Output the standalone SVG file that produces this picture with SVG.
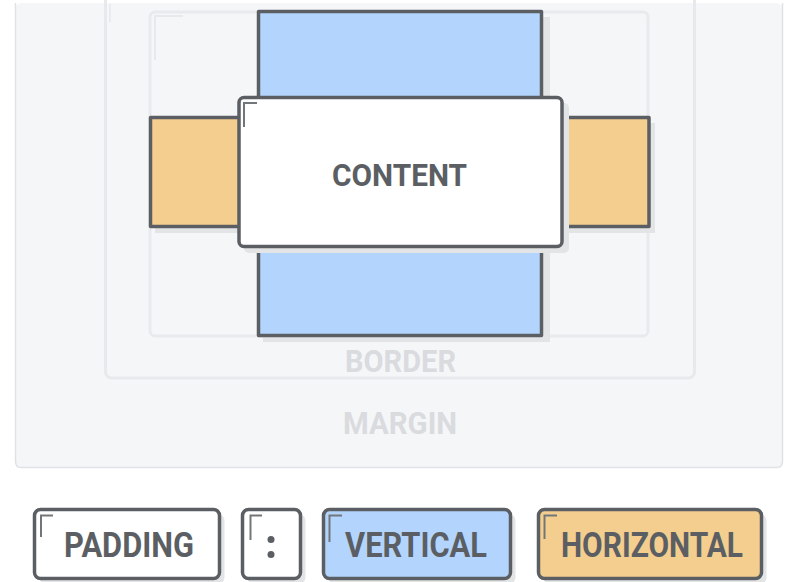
<svg xmlns="http://www.w3.org/2000/svg" width="788" height="582" viewBox="0 0 788 582">
  <style>
    .dark { stroke: #5b5f64; stroke-width: 3.5; stroke-linejoin: round; }
    .shadow { fill: #e3e4e6; }
    .mark { fill: none; stroke: #72767b; stroke-width: 2; }
    .lbl { font-family: Roboto, "Liberation Sans", sans-serif; font-weight: 700; fill: #5b5f64; text-anchor: middle; }
    .faint { font-family: Roboto, "Liberation Sans", sans-serif; font-weight: 700; fill: #d9dbde; text-anchor: middle; }
  </style>
  <rect width="788" height="582" fill="#ffffff"/>

  <g id="margin">
    <rect x="15.5" y="3" width="767" height="464.5" rx="6" fill="#f5f6f8"/>
    <path d="M15.5 3 V461.5 Q15.5 467.5 21.5 467.5 H776.5 Q782.5 467.5 782.5 461.5 V3" fill="none" stroke="#e0e2e5" stroke-width="1.5"/>
    <text class="faint" x="400" y="434" font-size="32" textLength="114" lengthAdjust="spacingAndGlyphs">MARGIN</text>
  </g>

  <g id="border">
    <rect x="105.5" y="-10" width="589" height="388" rx="6" fill="none" stroke="#e7e9ec" stroke-width="3"/>
    <path d="M110 4 V22" fill="none" stroke="#e9ebee" stroke-width="2"/>
    <text class="faint" x="400.5" y="372" font-size="31" textLength="111" lengthAdjust="spacingAndGlyphs">BORDER</text>
  </g>

  <g id="padding-area">
    <rect x="150" y="12" width="498" height="324" rx="5" fill="#f5f6f8" stroke="#e8eaed" stroke-width="3"/>
    <path d="M155 60 V16 H183" fill="none" stroke="#e7e9ec" stroke-width="2"/>
  </g>

  <g id="vertical-padding">
    <rect class="shadow" x="263" y="17" width="287" height="325"/>
    <rect class="dark" x="258.5" y="11.5" width="283" height="324" fill="#b3d5fd"/>
  </g>

  <g id="horizontal-padding-left">
    <rect class="shadow" x="155" y="123" width="100" height="110"/>
    <rect class="dark" x="150.5" y="117.5" width="100" height="109" fill="#f4ce8e"/>
  </g>

  <g id="horizontal-padding-right">
    <rect class="shadow" x="545" y="123" width="110" height="110"/>
    <rect class="dark" x="540" y="117.5" width="109" height="109" fill="#f4ce8e"/>
  </g>

  <g id="content">
    <rect class="shadow" x="244" y="103" width="325" height="150" rx="5"/>
    <rect class="dark" x="239" y="97.5" width="323" height="149" rx="5" fill="#ffffff"/>
    <path class="mark" d="M244 127 V103 H257"/>
    <text class="lbl" x="399.5" y="186" font-size="32" textLength="135" lengthAdjust="spacingAndGlyphs">CONTENT</text>
  </g>

  <g id="legend-padding">
    <rect class="shadow" x="39.5" y="514.5" width="185" height="69" rx="6"/>
    <rect class="dark" x="34.5" y="509.5" width="185" height="69" rx="6" fill="#ffffff"/>
    <path class="mark" d="M41 537 V515.5 H53"/>
    <text class="lbl" x="129" y="557" font-size="35" textLength="130" lengthAdjust="spacingAndGlyphs">PADDING</text>
  </g>

  <g id="legend-colon">
    <rect class="shadow" x="247.5" y="514.5" width="58" height="69" rx="6"/>
    <rect class="dark" x="242.5" y="509.5" width="58" height="69" rx="6" fill="#ffffff"/>
    <path class="mark" d="M250.5 540 V515.5 H262"/>
    <circle cx="271" cy="539.5" r="3.5" fill="#5b5f64"/>
    <circle cx="271" cy="554.5" r="3.5" fill="#5b5f64"/>
  </g>

  <g id="legend-vertical">
    <rect class="shadow" x="328.5" y="514.5" width="187" height="69" rx="6"/>
    <rect class="dark" x="323.5" y="509.5" width="187" height="69" rx="6" fill="#b3d5fd"/>
    <path class="mark" d="M329.5 542 V515.5 H342"/>
    <text class="lbl" x="416" y="557" font-size="35" textLength="142" lengthAdjust="spacingAndGlyphs">VERTICAL</text>
  </g>

  <g id="legend-horizontal">
    <rect class="shadow" x="543.5" y="514.5" width="223" height="69" rx="6"/>
    <rect class="dark" x="538.5" y="509.5" width="223" height="69" rx="6" fill="#f4ce8e"/>
    <path class="mark" d="M544.5 539 V515.5 H557"/>
    <text class="lbl" x="652" y="557" font-size="35" textLength="182" lengthAdjust="spacingAndGlyphs">HORIZONTAL</text>
  </g>
</svg>
